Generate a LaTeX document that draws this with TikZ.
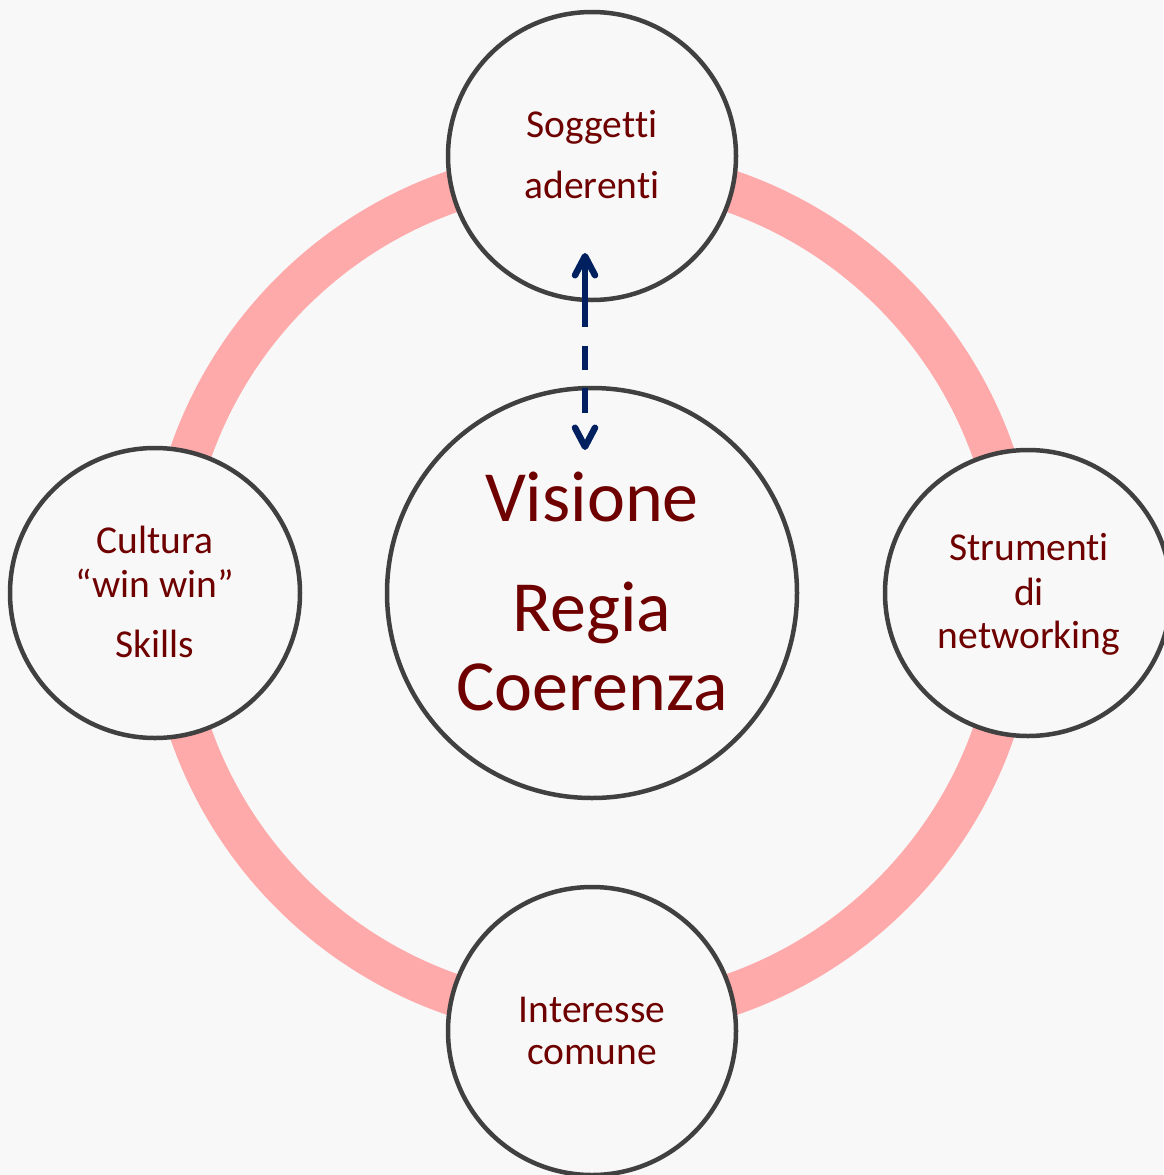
\documentclass[tikz,border=0pt]{standalone}
\usepackage{fontspec}
\setmainfont{Carlito}[Ligatures=NoCommon]
\usetikzlibrary{arrows.meta}
\definecolor{bg}{HTML}{F8F8F8}
\definecolor{ringc}{HTML}{FFAAAA}
\definecolor{rim}{HTML}{404040}
\definecolor{txt}{HTML}{6E0000}
\definecolor{navy}{HTML}{002060}
\begin{document}
\begin{tikzpicture}[x=1pt,y=-1pt,
  bubble/.style={circle, draw=rim, line width=4.5pt, fill=bg, inner sep=0pt, minimum size=#1},
  lbl/.style={text=txt, font=\fontsize{39.5}{44}\selectfont, anchor=base, inner sep=0pt},
  big/.style={text=txt, font=\fontsize{72}{80}\selectfont, anchor=base, inner sep=0pt},
  barb/.style={navy, line width=6.5pt,
    {Straight Barb[length=19pt,width=20pt,round]}-{Straight Barb[length=19pt,width=20pt,round]}}]
\fill[bg] (0,0) rectangle (1163,1175);
\useasboundingbox (0,0) rectangle (1163,1175);
\draw[ringc, line width=42pt] (592,593) circle (425pt);
\node[bubble=288pt] (top) at (592,156) {};
\node[bubble=290pt] (left) at (155,593) {};
\node[bubble=286pt] (right) at (1028,593) {};
\node[bubble=288pt] (bottom) at (592,1031) {};
\node[bubble=410pt] (center) at (592,593) {};
\node[lbl] (s1) at (592,137) {Soggetti};
\node[lbl] (s2) at (592,198) {aderenti};
\node[lbl] (c1) at (155,553) {Cultura};
\node[lbl] (c2) at (155,597) {“win win”};
\node[lbl] (c3) at (155,657) {Skills};
\node[lbl] (r1) at (1029,560) {Strumenti};
\node[lbl] (r2) at (1029,605) {di};
\node[lbl] (r3) at (1029,648) {networking};
\node[lbl] (b1) at (592,1022) {Interesse};
\node[lbl] (b2) at (592,1064) {comune};
\node[big] (v1) at (592,521) {Visione};
\node[big] (v2) at (592,631) {Regia};
\node[big] (v3) at (592,710) {Coerenza};
\coordinate (a1) at (585,253);
\coordinate (a2) at (585,450);
\draw[barb, dash pattern=on 67pt off 19pt on 24pt off 18pt on 25pt off 80pt] (a1) -- (a2);
\end{tikzpicture}
\end{document}
